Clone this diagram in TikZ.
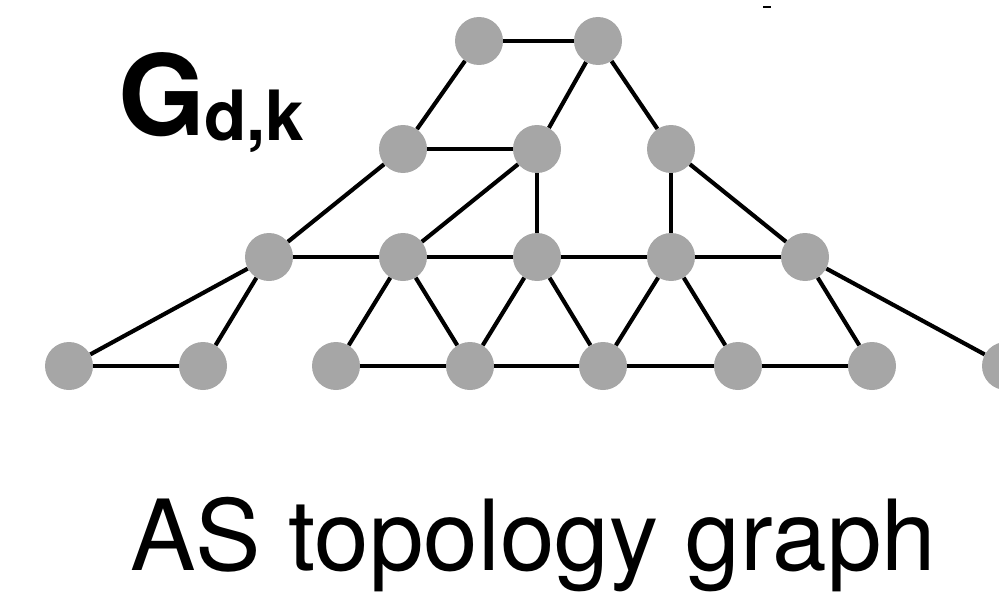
\documentclass[tikz,border=0pt]{standalone}
\usepackage{fontspec}
\setmainfont{TeX Gyre Heros}
\definecolor{nodegray}{RGB}{166,166,166}
\begin{document}
\begin{tikzpicture}[x={(0.75pt,0)},y={(0,-0.75pt)},
  vtx/.style={circle,fill=nodegray,draw=none,minimum size=36pt,inner sep=0pt},
  edge/.style={line width=3.1pt,black}]
\useasboundingbox (0,0) rectangle (999,592);
\clip (0,0) rectangle (999,592);
% nodes
\node[vtx] (a1) at (479,41) {};
\node[vtx] (a2) at (598,41) {};
\node[vtx] (b1) at (403,149) {};
\node[vtx] (b2) at (537,149) {};
\node[vtx] (b3) at (671,149) {};
\node[vtx] (c1) at (269,257) {};
\node[vtx] (c2) at (403,257) {};
\node[vtx] (c3) at (537,257) {};
\node[vtx] (c4) at (671,257) {};
\node[vtx] (c5) at (805,257) {};
\node[vtx] (d1) at (69,366) {};
\node[vtx] (d2) at (203,366) {};
\node[vtx] (d3) at (336,366) {};
\node[vtx] (d4) at (470,366) {};
\node[vtx] (d5) at (603,366) {};
\node[vtx] (d6) at (738,366) {};
\node[vtx] (d7) at (872,366) {};
\node[vtx] (d8) at (1006,366) {};
% edges
\draw[edge] (a1) -- (a2);
\draw[edge] (a1) -- (b1);
\draw[edge] (a2) -- (b2);
\draw[edge] (a2) -- (b3);
\draw[edge] (b1) -- (b2);
\draw[edge] (b1) -- (c1);
\draw[edge] (b2) -- (c2);
\draw[edge] (b2) -- (c3);
\draw[edge] (b3) -- (c4);
\draw[edge] (b3) -- (c5);
\draw[edge] (c1) -- (c2);
\draw[edge] (c2) -- (c3);
\draw[edge] (c3) -- (c4);
\draw[edge] (c4) -- (c5);
\draw[edge] (c1) -- (d1);
\draw[edge] (c1) -- (d2);
\draw[edge] (d1) -- (d2);
\draw[edge] (c2) -- (d3);
\draw[edge] (c2) -- (d4);
\draw[edge] (c3) -- (d4);
\draw[edge] (c3) -- (d5);
\draw[edge] (c4) -- (d5);
\draw[edge] (c4) -- (d6);
\draw[edge] (c5) -- (d7);
\draw[edge] (c5) -- (d8);
\draw[edge] (d3) -- (d4);
\draw[edge] (d4) -- (d5);
\draw[edge] (d5) -- (d6);
\draw[edge] (d6) -- (d7);
% small mark
\draw[line width=1.5pt] (763,7) -- (771,7);
% labels
\node[anchor=base west,inner sep=0pt] (G) at (118,135) {\bfseries\fontsize{84}{84}\selectfont G};
\node[anchor=base west,inner sep=0pt] (sub) at (204,140) {\bfseries\fontsize{52}{52}\selectfont d,k};
\node[anchor=base west,inner sep=0pt] (title) at (130,570) {\fontsize{73.6}{73.6}\selectfont AS topology graph};
\end{tikzpicture}
\end{document}
